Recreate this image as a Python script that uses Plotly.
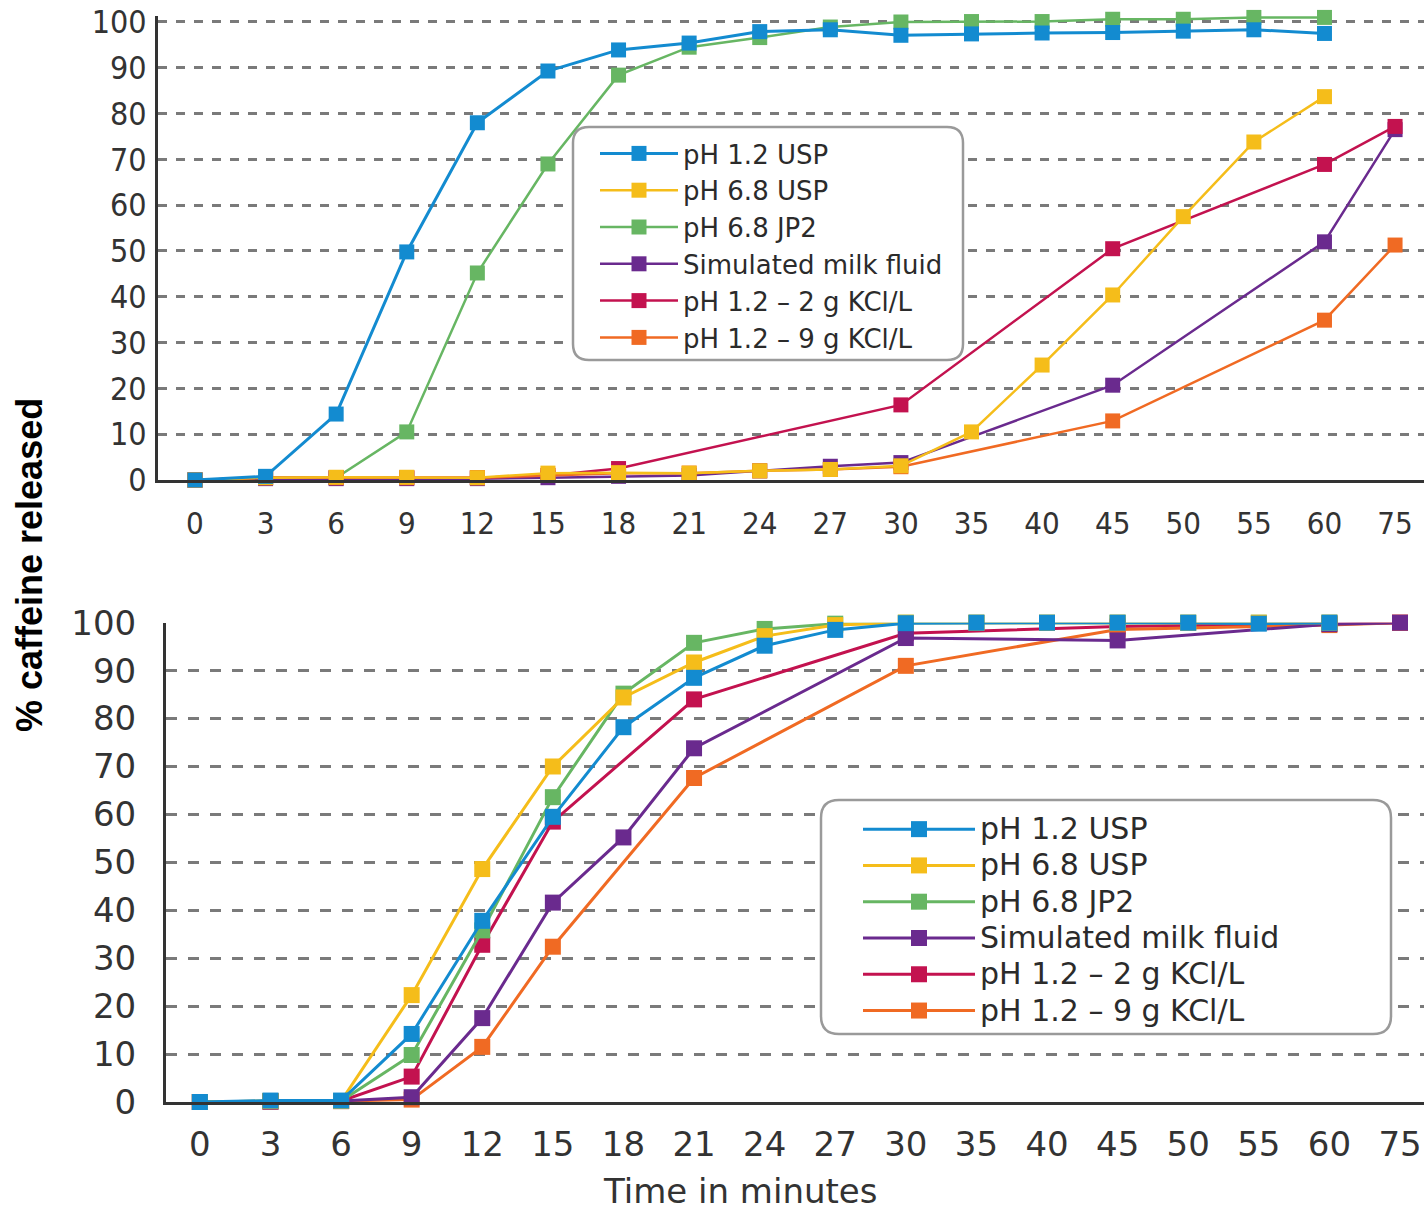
import plotly.graph_objects as go

# ---------------- data ----------------
times = ["0", "3", "6", "9", "12", "15", "18", "21", "24", "27", "30", "35", "40", "45", "50", "55", "60", "75"]
series_names = ["pH 1.2 USP", "pH 6.8 USP", "pH 6.8 JP2", "Simulated milk fluid",
                "pH 1.2 \u2013 2 g KCl/L", "pH 1.2 \u2013 9 g KCl/L"]
series_colors = ["#138bd0", "#f5bd1a", "#67b663", "#6a2a8e", "#c3124f", "#f06a23"]

# top panel
top_ph12_usp = [0, 0.8, 14.4, 49.8, 78, 89.3, 93.9, 95.4, 97.9, 98.3, 97.1, 97.4, 97.6, 97.7, 98, 98.3, 97.5, None]
top_ph68_usp = [0, 0.5, 0.6, 0.6, 0.5, 1.5, 1.6, 1.5, 2.0, 2.3, 3.1, 10.5, 25.1, 40.4, 57.5, 73.8, 83.7, None]
top_ph68_jp2 = [0, 0.5, 0.5, 10.5, 45.2, 69, 88.4, 94.5, 96.6, 98.9, 100, 100.1, 100.1, 100.6, 100.6, 101, 101, None]
top_milk = [0, 0.3, 0.3, 0.3, 0.3, 0.5, 0.8, 1.0, 2.0, 3.0, 3.8, None, None, 20.7, None, None, 52, 76.5]
top_kcl2 = [0, 0.5, 0.5, 0.5, 0.5, 1.0, 2.5, None, None, None, 16.4, None, None, 50.5, None, None, 68.9, 77.2]
top_kcl9 = [0, 0.5, 0.5, 0.5, 0.5, 1.0, 1.5, 1.5, 2.0, 2.3, 2.9, None, None, 12.9, None, None, 34.9, 51.3]

# bottom panel
bot_ph12_usp = [0, 0.3, 0.3, 14.2, 37.8, 59.5, 78.2, 88.5, 95.2, 98.5, 99.9, 100, 100, 100, 100, 99.8, 100, None]
bot_ph68_usp = [0, 0.2, 0.2, 22.3, 48.6, 70, 84.4, 91.7, 97.2, 99.5, 100, 100, 100, 100, 100, 100, 100, None]
bot_ph68_jp2 = [0, 0.2, 0.2, 9.8, 35.8, 63.6, 85.2, 95.8, 98.7, 99.8, 100, 100, 100, 100, 100, 100, 100, None]
bot_milk = [0, 0.1, 0.2, 1.0, 17.5, 41.6, 55.2, 73.8, None, None, 96.8, None, None, 96.3, None, None, 99.7, 100]
bot_kcl2 = [0, 0.1, 0.2, 5.3, 32.8, 58.5, None, 84, None, None, 97.8, None, None, 99.2, None, None, 99.8, 100]
bot_kcl9 = [0, 0.1, 0.2, 0.5, 11.5, 32.4, None, 67.6, None, None, 91, None, None, 98.6, None, None, 99.5, 100]

y_ticks = [0, 10, 20, 30, 40, 50, 60, 70, 80, 90, 100]

top_values = [top_ph12_usp, top_ph68_usp, top_ph68_jp2, top_milk, top_kcl2, top_kcl9]
bot_values = [bot_ph12_usp, bot_ph68_usp, bot_ph68_jp2, bot_milk, bot_kcl2, bot_kcl9]

# ---------------- figure ----------------
W, H = 1424, 1211
fig = go.Figure()

top_order = [2, 3, 4, 5, 1, 0]
bot_order = [4, 5, 3, 2, 1, 0]

for i in top_order:
    fig.add_trace(go.Scatter(
        x=times, y=top_values[i], name=series_names[i], mode="lines+markers",
        connectgaps=True, cliponaxis=False,
        line=dict(color=series_colors[i], width=3 if i == 0 else 2.5),
        marker=dict(symbol="square", size=15, color=series_colors[i]),
        legendrank=i + 1, legend="legend", xaxis="x", yaxis="y"))

for i in bot_order:
    fig.add_trace(go.Scatter(
        x=times, y=bot_values[i],
        name='<span style="font-size:30px">' + series_names[i] + '</span>',
        mode="lines+markers", connectgaps=True, cliponaxis=False,
        line=dict(color=series_colors[i], width=3),
        marker=dict(symbol="square", size=16, color=series_colors[i]),
        legendrank=i + 1, legend="legend2", xaxis="x2", yaxis="y2"))

def px(v):
    return v / W

def py(v):
    return 1 - v / H

narrow = "Liberation Sans Narrow, DejaVu Sans Condensed, Arial Narrow, sans-serif"
wide = "DejaVu Sans, Verdana, sans-serif"

common_x = dict(type="category", categoryorder="array", categoryarray=times,
                showgrid=False, zeroline=False, showline=True, linecolor="#333333",
                linewidth=3, ticks="", ticklen=0, automargin=False)
common_y = dict(tickvals=y_ticks, showgrid=True, gridcolor="#7a7a7a",
                gridwidth=2.5, zeroline=False, showline=True, linecolor="#333333",
                linewidth=3, ticks="", ticklen=0, automargin=False)

top_px_per_unit = (480 - 22) / 100.0
top_ymax = 101.3

fig.update_layout(
    width=W, height=H, margin=dict(l=0, r=0, t=0, b=0, autoexpand=False),
    paper_bgcolor="white", plot_bgcolor="white",
    xaxis=dict(common_x, domain=[px(158), 1], range=[-0.524, 17.41], anchor="y",
               tickfont=dict(family=narrow, size=31, color="#333333"), ticklabelstandoff=14),
    yaxis=dict(common_y, domain=[py(480), py(480 - top_ymax * top_px_per_unit)],
               range=[0, top_ymax], anchor="x", griddash="9px,9px",
               tickfont=dict(family=narrow, size=32, color="#333333"), ticklabelstandoff=2),
    xaxis2=dict(common_x, domain=[px(166), 1], range=[-0.48, 17.34], anchor="y2",
                tickfont=dict(family=wide, size=34, color="#333333"), ticklabelstandoff=10),
    yaxis2=dict(common_y, domain=[py(1102), py(622.7)], range=[0, 100], anchor="x2",
                griddash="11px,11px",
                tickfont=dict(family=wide, size=34, color="#333333"), ticklabelstandoff=20),
    legend=dict(x=px(595), y=py(130), xanchor="left", yanchor="top",
                bgcolor="rgba(0,0,0,0)", borderwidth=0, itemwidth=78,
                font=dict(family=wide, size=26, color="#2b2b2b"), tracegroupgap=0),
    legend2=dict(x=px(858), y=py(806), xanchor="left", yanchor="top",
                 bgcolor="rgba(0,0,0,0)", borderwidth=0, itemwidth=112,
                 font=dict(family=wide, size=25.6, color="#2b2b2b"), tracegroupgap=0),
    showlegend=True,
)

def rounded_box(x0, y0, x1, y1, r):
    rx, ry = r / W, r / H
    X0, X1 = px(x0), px(x1)
    Yt, Yb = py(y0), py(y1)
    return (f"M {X0+rx},{Yt} L {X1-rx},{Yt} Q {X1},{Yt} {X1},{Yt-ry} "
            f"L {X1},{Yb+ry} Q {X1},{Yb} {X1-rx},{Yb} L {X0+rx},{Yb} "
            f"Q {X0},{Yb} {X0},{Yb+ry} L {X0},{Yt-ry} Q {X0},{Yt} {X0+rx},{Yt} Z")

fig.add_shape(type="path", xref="paper", yref="paper", path=rounded_box(573, 127, 963, 360, 16),
              fillcolor="white", line=dict(color="#9a9a9a", width=2.5), layer="above")
fig.add_shape(type="path", xref="paper", yref="paper", path=rounded_box(821, 800, 1391, 1034, 18),
              fillcolor="white", line=dict(color="#9a9a9a", width=2.5), layer="above")

fig.add_annotation(text="<b>% caffeine released</b>", x=px(29), y=py(565), xref="paper", yref="paper",
                   textangle=-90, showarrow=False, xanchor="center", yanchor="middle",
                   font=dict(family="Liberation Sans, Arial, sans-serif", size=36, color="black"))
fig.add_annotation(text="Time in minutes", x=px(740), y=py(1191), xref="paper", yref="paper",
                   showarrow=False, xanchor="center", yanchor="middle",
                   font=dict(family=wide, size=34, color="#333333"))

fig.write_html("out.html")
